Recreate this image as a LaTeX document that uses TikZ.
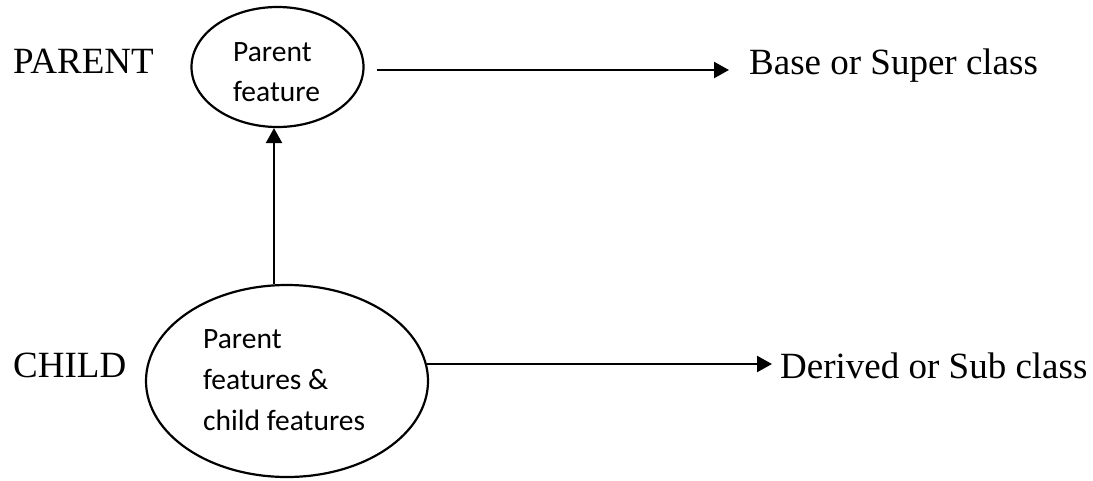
\documentclass[tikz,border=0pt]{standalone}
\usepackage{fontspec}
\setmainfont{Liberation Serif}
\newfontfamily\calibri{Carlito}
\usetikzlibrary{shapes.geometric,arrows.meta}
\begin{document}
\begin{tikzpicture}[x=1pt,y=-1pt,
  oval/.style={draw,ellipse,line width=2.2pt,inner sep=0},
  tag/.style={anchor=base west,inner sep=0,font=\fontsize{37}{44}\selectfont},
  inside/.style={anchor=base west,inner sep=0,font=\calibri\fontsize{29.5}{36}\selectfont},
  link/.style={line width=2.3pt,-{Triangle[length=15pt,width=16pt]}}]
\useasboundingbox (0,0) rectangle (1093,480);

% class ovals
\node[oval,minimum width=172pt,minimum height=120pt] (pe) at (277.5,67) {};
\node[oval,minimum width=282pt,minimum height=192pt] (ce) at (287,381) {};

% text inside the ovals
\node[inside] (pt1) at (233,61) {Parent};
\node[inside] (pt2) at (233,101) {feature};
\node[inside] (ct1) at (203,348) {Parent};
\node[inside] (ct2) at (203,389) {features \&};
\node[inside] (ct3) at (203,430) {child features};

% side labels
\node[tag] (parent) at (13,73) {PARENT};
\node[tag] (child) at (13,377) {CHILD};
\node[tag] (base) at (749,74) {Base or Super class};
\node[tag] (derived) at (780,378) {Derived or Sub class};

% connectors
\coordinate (pa) at (377,70);
\draw[link] (pa) -- ([xshift=-20pt]pa -| base.west);
\coordinate (cb) at (427,364);
\draw[link] (cb) -- ([xshift=-8pt]cb -| derived.west);
\coordinate (up) at (274,284);
\draw[link] (up) -- (up |- pe.south);
\end{tikzpicture}
\end{document}
